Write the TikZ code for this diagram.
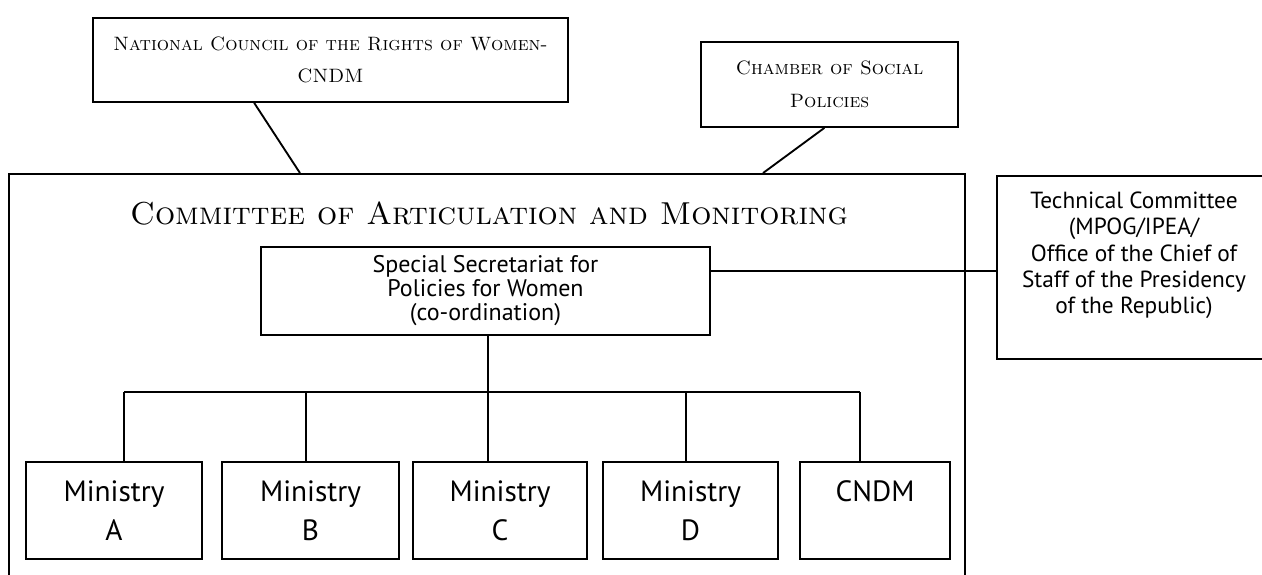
\documentclass[tikz,border=0pt]{standalone}
\usepackage{fontspec}
\setsansfont{PT Sans}
\usetikzlibrary{calc}

\begin{document}
\begin{tikzpicture}[x=0.75pt, y=-0.75pt,
	line width=1.4pt,
	box/.style={draw, rectangle, inner sep=0, align=center},
	caps/.style={font=\fontsize{14.5}{24.5}\selectfont\scshape},
	body/.style={font=\sffamily\fontsize{18}{18}\selectfont},
	big/.style={font=\sffamily\fontsize{22}{29}\selectfont}]
	\clip (0,0) rectangle (1262,574);
	% councils on top
	\node[box, caps, minimum width=356.25pt, minimum height=63pt] (ncdm) at (330.5,60)
		{National Council of the Rights of Women-\\CNDM};
	\node[box, caps, minimum width=192.75pt, minimum height=63.75pt] (csp) at (829.5,84.5)
		{Chamber of Social\\Policies};
	% the committee itself, open at the bottom
	\node[box, minimum width=717pt, minimum height=349.5pt] (cam) at (487,407) {};
	\node[font=\fontsize{23.8}{26}\selectfont\scshape] (camtitle) at (489,213)
		{Committee of Articulation and Monitoring};
	\draw ($(ncdm.south west)!0.34!(ncdm.south east)$) -- (cam.north -| 300,0);
	\draw ($(csp.south west)!0.48!(csp.south east)$) -- (cam.north -| 763,0);
	% co-ordination
	\node[box, body, minimum width=336.75pt, minimum height=66pt] (sepm) at (485.5,291)
		{Special Secretariat for\\Policies for Women\\(co-ordination)};
	\node[box, body, font=\sffamily\fontsize{17.5}{19.8}\selectfont, text depth=22pt,
		minimum width=205.5pt, minimum height=137.25pt] (tc) at (1134,267.5)
		{Technical Committee\\(MPOG/IPEA/\\Office of the Chief of\\Staff of the Presidency\\of the Republic)};
	\draw ($(sepm.north east)!0.28!(sepm.south east)$) coordinate (s) -- (s -| tc.west);
	% ministries
	\node[box, big, minimum width=132pt, minimum height=72.75pt] (ma) at (114,510.5) {Ministry\\A};
	\node[box, big, minimum width=132.75pt, minimum height=72.75pt] (mb) at (310.5,510.5) {Ministry\\B};
	\node[box, big, minimum width=130.5pt, minimum height=72.75pt] (mc) at (500,510.5) {Ministry\\C};
	\node[box, big, minimum width=131.25pt, minimum height=72.75pt] (md) at (690.5,510.5) {Ministry\\D};
	\node[box, big, minimum width=112.5pt, minimum height=72.75pt] (mn) at (875,510.5) {CNDM\\\phantom{A}};
	\coordinate (bus) at (488,392);
	\draw (sepm.south -| bus) -- (bus);
	\draw (bus -| 124,0) -- (bus -| 860,0);
	\foreach \m/\x in {ma/124, mb/306, mc/488, md/686, mn/860}
		\draw (bus -| \x,0) -- (\m.north -| \x,0);
\end{tikzpicture}
\end{document}
